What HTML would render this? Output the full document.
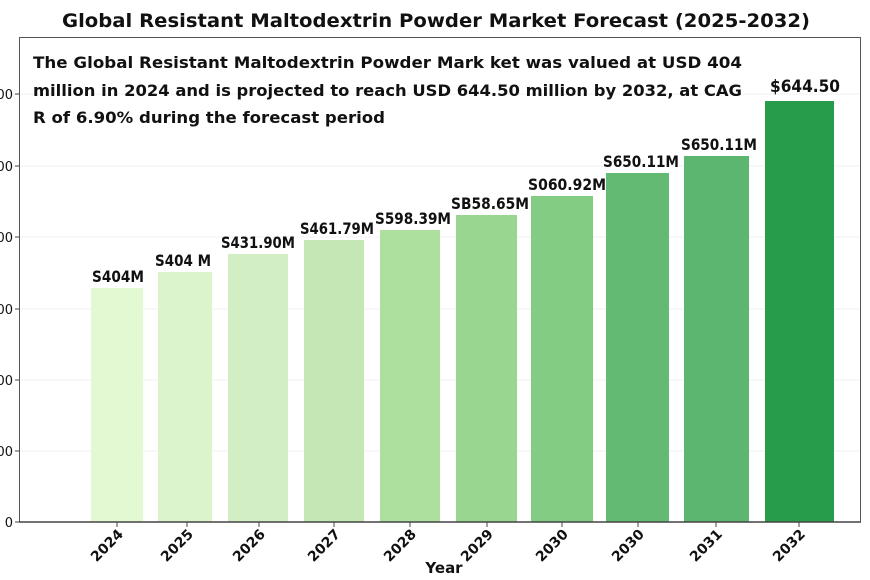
<!DOCTYPE html>
<html><head><meta charset="utf-8"><style>
html,body{margin:0;padding:0;background:#fff}
svg{display:block}
text{font-family:"DejaVu Sans","Liberation Sans",sans-serif}
</style></head><body>
<svg width="870" height="580" viewBox="0 0 870 580" xmlns="http://www.w3.org/2000/svg">
<text x="62" y="27" font-size="19" font-weight="bold" fill="#111" textLength="748" lengthAdjust="spacingAndGlyphs">Global Resistant Maltodextrin Powder Market Forecast (2025-2032)</text>
<g stroke="#f2f2f2" stroke-width="1">
<line x1="20" x2="860" y1="94" y2="94"/><line x1="20" x2="860" y1="166" y2="166"/><line x1="20" x2="860" y1="237" y2="237"/><line x1="20" x2="860" y1="309" y2="309"/><line x1="20" x2="860" y1="380" y2="380"/><line x1="20" x2="860" y1="451" y2="451"/>
</g>
<rect x="91" y="288" width="52" height="234" fill="#e2f9d2"/>
<rect x="158" y="272" width="54" height="250" fill="#dcf4cc"/>
<rect x="228" y="254" width="60" height="268" fill="#d2eec4"/>
<rect x="304" y="240" width="60" height="282" fill="#c4e7b6"/>
<rect x="380" y="230" width="60" height="292" fill="#ade09e"/>
<rect x="456" y="215" width="61" height="307" fill="#99d790"/>
<rect x="531" y="196" width="62" height="326" fill="#83cc84"/>
<rect x="606" y="173" width="63" height="349" fill="#63ba72"/>
<rect x="684" y="156" width="65" height="366" fill="#5cb66f"/>
<rect x="765" y="101" width="69" height="421" fill="#279d4b"/>
<rect x="19.5" y="37.5" width="841" height="484.5" fill="none" stroke="#555" stroke-width="1"/>
<line x1="19" x2="861" y1="522" y2="522" stroke="#444" stroke-width="1.5"/>
<g stroke="#444" stroke-width="1">
<line x1="15" x2="19" y1="94" y2="94"/><line x1="15" x2="19" y1="166" y2="166"/><line x1="15" x2="19" y1="237" y2="237"/><line x1="15" x2="19" y1="309" y2="309"/><line x1="15" x2="19" y1="380" y2="380"/><line x1="15" x2="19" y1="451" y2="451"/><line x1="15" x2="19" y1="522" y2="522"/>
<line x1="117" x2="117" y1="522" y2="527"/><line x1="187" x2="187" y1="522" y2="527"/><line x1="259" x2="259" y1="522" y2="527"/><line x1="334" x2="334" y1="522" y2="527"/><line x1="410" x2="410" y1="522" y2="527"/><line x1="487" x2="487" y1="522" y2="527"/><line x1="562" x2="562" y1="522" y2="527"/><line x1="638" x2="638" y1="522" y2="527"/><line x1="716" x2="716" y1="522" y2="527"/><line x1="799" x2="799" y1="522" y2="527"/>
</g>
<g font-size="13" fill="#111" text-anchor="end">
<text x="13" y="99">00</text><text x="13" y="171">00</text><text x="13" y="242">00</text><text x="13" y="314">00</text><text x="13" y="385">00</text><text x="13" y="456">00</text><text x="13" y="527">0</text>
</g>
<g font-size="14" font-weight="bold" fill="#111" text-anchor="end">
<text transform="translate(124,535) rotate(-45)">2024</text>
<text transform="translate(194,535) rotate(-45)">2025</text>
<text transform="translate(266,535) rotate(-45)">2026</text>
<text transform="translate(341,535) rotate(-45)">2027</text>
<text transform="translate(417,535) rotate(-45)">2028</text>
<text transform="translate(494,535) rotate(-45)">2029</text>
<text transform="translate(569,535) rotate(-45)">2030</text>
<text transform="translate(645,535) rotate(-45)">2030</text>
<text transform="translate(723,535) rotate(-45)">2031</text>
<text transform="translate(806,535) rotate(-45)">2032</text>
</g>
<text x="444" y="573" text-anchor="middle" font-size="15" font-weight="bold" fill="#111">Year</text>
<g font-size="16" font-weight="bold" fill="#111" text-anchor="middle" lengthAdjust="spacingAndGlyphs">
<text x="118" y="282" textLength="52" lengthAdjust="spacingAndGlyphs">S404M</text>
<text x="183" y="266" textLength="56" lengthAdjust="spacingAndGlyphs">S404 M</text>
<text x="258" y="248" textLength="74" lengthAdjust="spacingAndGlyphs">S431.90M</text>
<text x="337" y="234" textLength="74" lengthAdjust="spacingAndGlyphs">S461.79M</text>
<text x="413" y="224" textLength="76" lengthAdjust="spacingAndGlyphs">S598.39M</text>
<text x="490" y="209" textLength="78" lengthAdjust="spacingAndGlyphs">SB58.65M</text>
<text x="567" y="190" textLength="78" lengthAdjust="spacingAndGlyphs">S060.92M</text>
<text x="641" y="167" textLength="76" lengthAdjust="spacingAndGlyphs">S650.11M</text>
<text x="719" y="150" textLength="76" lengthAdjust="spacingAndGlyphs">S650.11M</text>
<text x="805" y="92" font-size="17" textLength="70" lengthAdjust="spacingAndGlyphs">$644.50</text>
</g>
<g font-size="16" font-weight="bold" fill="#111">
<text x="33" y="68" textLength="709" lengthAdjust="spacingAndGlyphs">The Global Resistant Maltodextrin Powder Mark ket was valued at USD 404</text>
<text x="33" y="96" textLength="709" lengthAdjust="spacingAndGlyphs">million in 2024 and is projected to reach USD 644.50 million by 2032, at CAG</text>
<text x="33" y="123" textLength="352" lengthAdjust="spacingAndGlyphs">R of 6.90% during the forecast period</text>
</g>
</svg>
</body></html>
